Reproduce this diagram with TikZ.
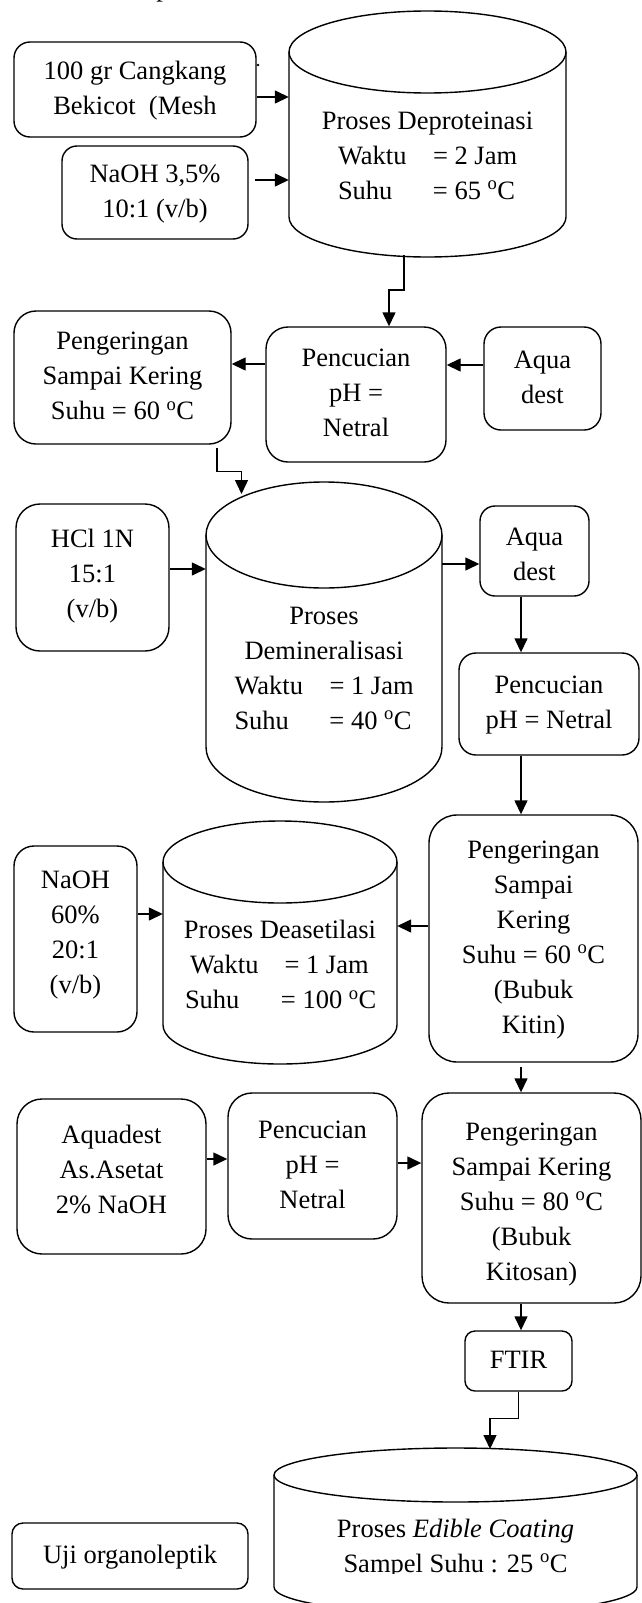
\documentclass[tikz,border=0pt]{standalone}
\usepackage{fontspec}
\setmainfont{Liberation Serif}
\usetikzlibrary{arrows.meta}
\newcommand\mytab[1]{\begin{tabular}{@{}c@{}}#1\end{tabular}}
\begin{document}
\begin{tikzpicture}[x=1pt,y=-1pt, font=\fontsize{26.5}{35}\selectfont,
  ln/.style={line width=1.4pt},
  rbox/.style={draw, line width=1.4pt, inner sep=0pt, align=center},
  arr/.style={line width=1.4pt, -{Triangle[length=14pt,width=13pt]}},
  lbl/.style={inner sep=0pt, align=center}]
\fill[white] (0,0) rectangle (642,1603);
\useasboundingbox (0,0) rectangle (642,1603);

% fragment of text above
\node[inner sep=0pt, anchor=base] (ptop) at (163,-3.5) {p};

% ---------- boxes ----------
\node[rbox, rounded corners=16pt, minimum width=242pt, minimum height=95pt] (b1) at (135,89.5) {\mytab{100 gr Cangkang\\Bekicot\ \ (Mesh}};
\node[rbox, rounded corners=15pt, minimum width=186pt, minimum height=93pt] (b2) at (155,192.5) {\mytab{NaOH 3,5\%\\10:1 (v/b)}};
\node[rbox, rounded corners=22pt, minimum width=217pt, minimum height=133pt] (peng1) at (122.5,377.5) {\mytab{Pengeringan\\Sampai Kering\\Suhu = 60 \textsuperscript{o}C}};
\node[rbox, rounded corners=22pt, minimum width=180pt, minimum height=135pt] (penc1) at (356,394.5) {\mytab{Pencucian\\pH =\\Netral}};
\node[rbox, rounded corners=17pt, minimum width=117pt, minimum height=103pt] (aqua1) at (542.5,378.5) {\mytab{Aqua\\dest}};
\node[rbox, rounded corners=24pt, minimum width=153pt, minimum height=147pt] (hcl) at (92.5,577.5) {};
\node[lbl] (hclT) at (92.5,575) {\mytab{HCl 1N\\15:1\\(v/b)}};
\node[rbox, rounded corners=15pt, minimum width=109pt, minimum height=90pt] (aqua2) at (534.5,551) {};
\node[lbl] (aqua2T) at (534.5,556) {\mytab{Aqua\\dest}};
\node[rbox, rounded corners=17pt, minimum width=180pt, minimum height=102pt] (penc2) at (549,704) {\mytab{Pencucian\\pH = Netral}};
\node[rbox, rounded corners=28pt, minimum width=209pt, minimum height=247pt] (peng2) at (533.5,938.5) {\mytab{Pengeringan\\Sampai\\Kering\\Suhu = 60 \textsuperscript{o}C\\(Bubuk\\Kitin)}};
\node[rbox, rounded corners=20pt, minimum width=123pt, minimum height=186pt] (naoh) at (75.5,939) {};
\node[lbl] (naohT) at (75.5,933.5) {\mytab{NaOH\\60\%\\20:1\\(v/b)}};
\node[rbox, rounded corners=25pt, minimum width=189pt, minimum height=155pt] (aquad) at (111.5,1176.5) {};
\node[lbl] (aquadT) at (111.5,1171) {\mytab{Aquadest\\As.Asetat\\2\% NaOH}};
\node[rbox, rounded corners=24pt, minimum width=169pt, minimum height=146pt] (penc3) at (312.5,1166) {\mytab{Pencucian\\pH =\\Netral}};
\node[rbox, rounded corners=27pt, minimum width=219pt, minimum height=210pt] (peng3) at (531.5,1198) {};
\node[lbl] (peng3T) at (531.5,1203) {\mytab{Pengeringan\\Sampai Kering\\Suhu = 80 \textsuperscript{o}C\\(Bubuk\\Kitosan)}};
\node[rbox, rounded corners=10pt, minimum width=107pt, minimum height=60pt] (ftir) at (518.5,1361) {\mytab{FTIR}};
\node[rbox, rounded corners=11pt, minimum width=236pt, minimum height=66pt] (uji) at (130,1556) {\mytab{Uji organoleptik}};

% ---------- cylinders ----------
% cyl1
\draw[ln] (427.5,52) ellipse [x radius=138.5pt, y radius=41pt];
\draw[ln] (289,52) -- (289,217) arc[start angle=180,end angle=360,x radius=138.5pt,y radius=40pt] -- (566,52);
\node[inner sep=0pt, minimum width=277pt, minimum height=165pt] (cyl1) at (427.5,134.5) {};
\node[lbl] (t1) at (427.5,157) {\mytab{Proses Deproteinasi\\\makebox[179pt][l]{\makebox[95pt][l]{Waktu}= 2 Jam}\\\makebox[179pt][l]{\makebox[95pt][l]{Suhu}= 65 \textsuperscript{o}C}}};
% cyl2
\draw[ln] (324,535) ellipse [x radius=118pt, y radius=53pt];
\draw[ln] (206,535) -- (206,747) arc[start angle=180,end angle=360,x radius=118pt,y radius=55pt] -- (442,535);
\node[inner sep=0pt, minimum width=236pt, minimum height=212pt] (cyl2) at (324,641) {};
\node[lbl] (t2) at (324,669.5) {\mytab{Proses\\Demineralisasi\\\makebox[179pt][l]{\makebox[95pt][l]{Waktu}= 1 Jam}\\\makebox[179pt][l]{\makebox[95pt][l]{Suhu}= 40 \textsuperscript{o}C}}};
% cyl3
\draw[ln] (280,862) ellipse [x radius=117pt, y radius=41pt];
\draw[ln] (163,862) -- (163,1025) arc[start angle=180,end angle=360,x radius=117pt,y radius=39pt] -- (397,862);
\node[inner sep=0pt, minimum width=234pt, minimum height=163pt] (cyl3) at (280,943.5) {};
\node[lbl] (t3) at (280,966.5) {\mytab{Proses Deasetilasi\\\makebox[190pt][l]{\hspace*{5pt}\makebox[94.5pt][l]{Waktu}= 1 Jam}\\\makebox[190pt][l]{\makebox[96pt][l]{Suhu}= 100 \textsuperscript{o}C}}};
% cyl4
\draw[ln] (455.5,1475) ellipse [x radius=181.5pt, y radius=27pt];
\draw[ln] (274,1475) -- (274,1587) arc[start angle=180,end angle=360,x radius=181.5pt,y radius=27pt] -- (637,1475);
\node[inner sep=0pt, minimum width=363pt, minimum height=112pt] (cyl4) at (455.5,1531) {};
\begin{scope}
\clip (274,1500) rectangle (637,1573);
\node[lbl] (t4) at (455.5,1547.5) {\mytab{Proses \textit{Edible Coating}\\Sampel Suhu : 25 \textsuperscript{o}C}};
\end{scope}

% ---------- connectors ----------
\fill (258,65) circle[radius=1.4pt];
\draw[arr] (b1.east |- 0,97) -- (cyl1.west |- 0,97);
\draw[arr] ([shift={(6,-12.5)}]b2.east) -- (cyl1.west |- 0,180);
\coordinate (c1o) at (404,255);
\draw[arr] (c1o) -- ++(0,35) -| ([xshift=33pt]penc1.north);
\draw[arr] (aqua1.west |- 0,365) -- (penc1.east |- 0,365);
\draw[arr] (penc1.west |- 0,364) -- (peng1.east |- 0,364);
\coordinate (c2i) at (241.5,494);
\draw[arr] ([xshift=94.5pt,yshift=-3pt]peng1.south) -- ++(0,24) -| (c2i);
\draw[arr] (hcl.east |- 0,569) -- (cyl2.west |- 0,569);
\draw[arr] (cyl2.east |- 0,564) -- (aqua2.west |- 0,564);
\draw[arr] (aqua2.south -| 521,0) -- (penc2.north -| 521,0);
\draw[arr] (penc2.south -| 521,0) -- (peng2.north -| 521,0);
\draw[arr] (naoh.east |- 0,914) -- (cyl3.west |- 0,914);
\draw[arr] (peng2.west |- 0,926) -- (cyl3.east |- 0,926);
\coordinate (p2o) at (521,1067);
\draw[arr] (p2o) -- (peng3.north -| p2o);
\draw[arr] (aquad.east |- 0,1159) -- (penc3.west |- 0,1159);
\draw[arr] (penc3.east |- 0,1163) -- (peng3.west |- 0,1163);
\draw[arr] (peng3.south -| 521,0) -- (ftir.north -| 521,0);
\coordinate (c4i) at (490,1449);
\draw[arr] (ftir.south) -- ++(0,27) -| (c4i);
\end{tikzpicture}
\end{document}
